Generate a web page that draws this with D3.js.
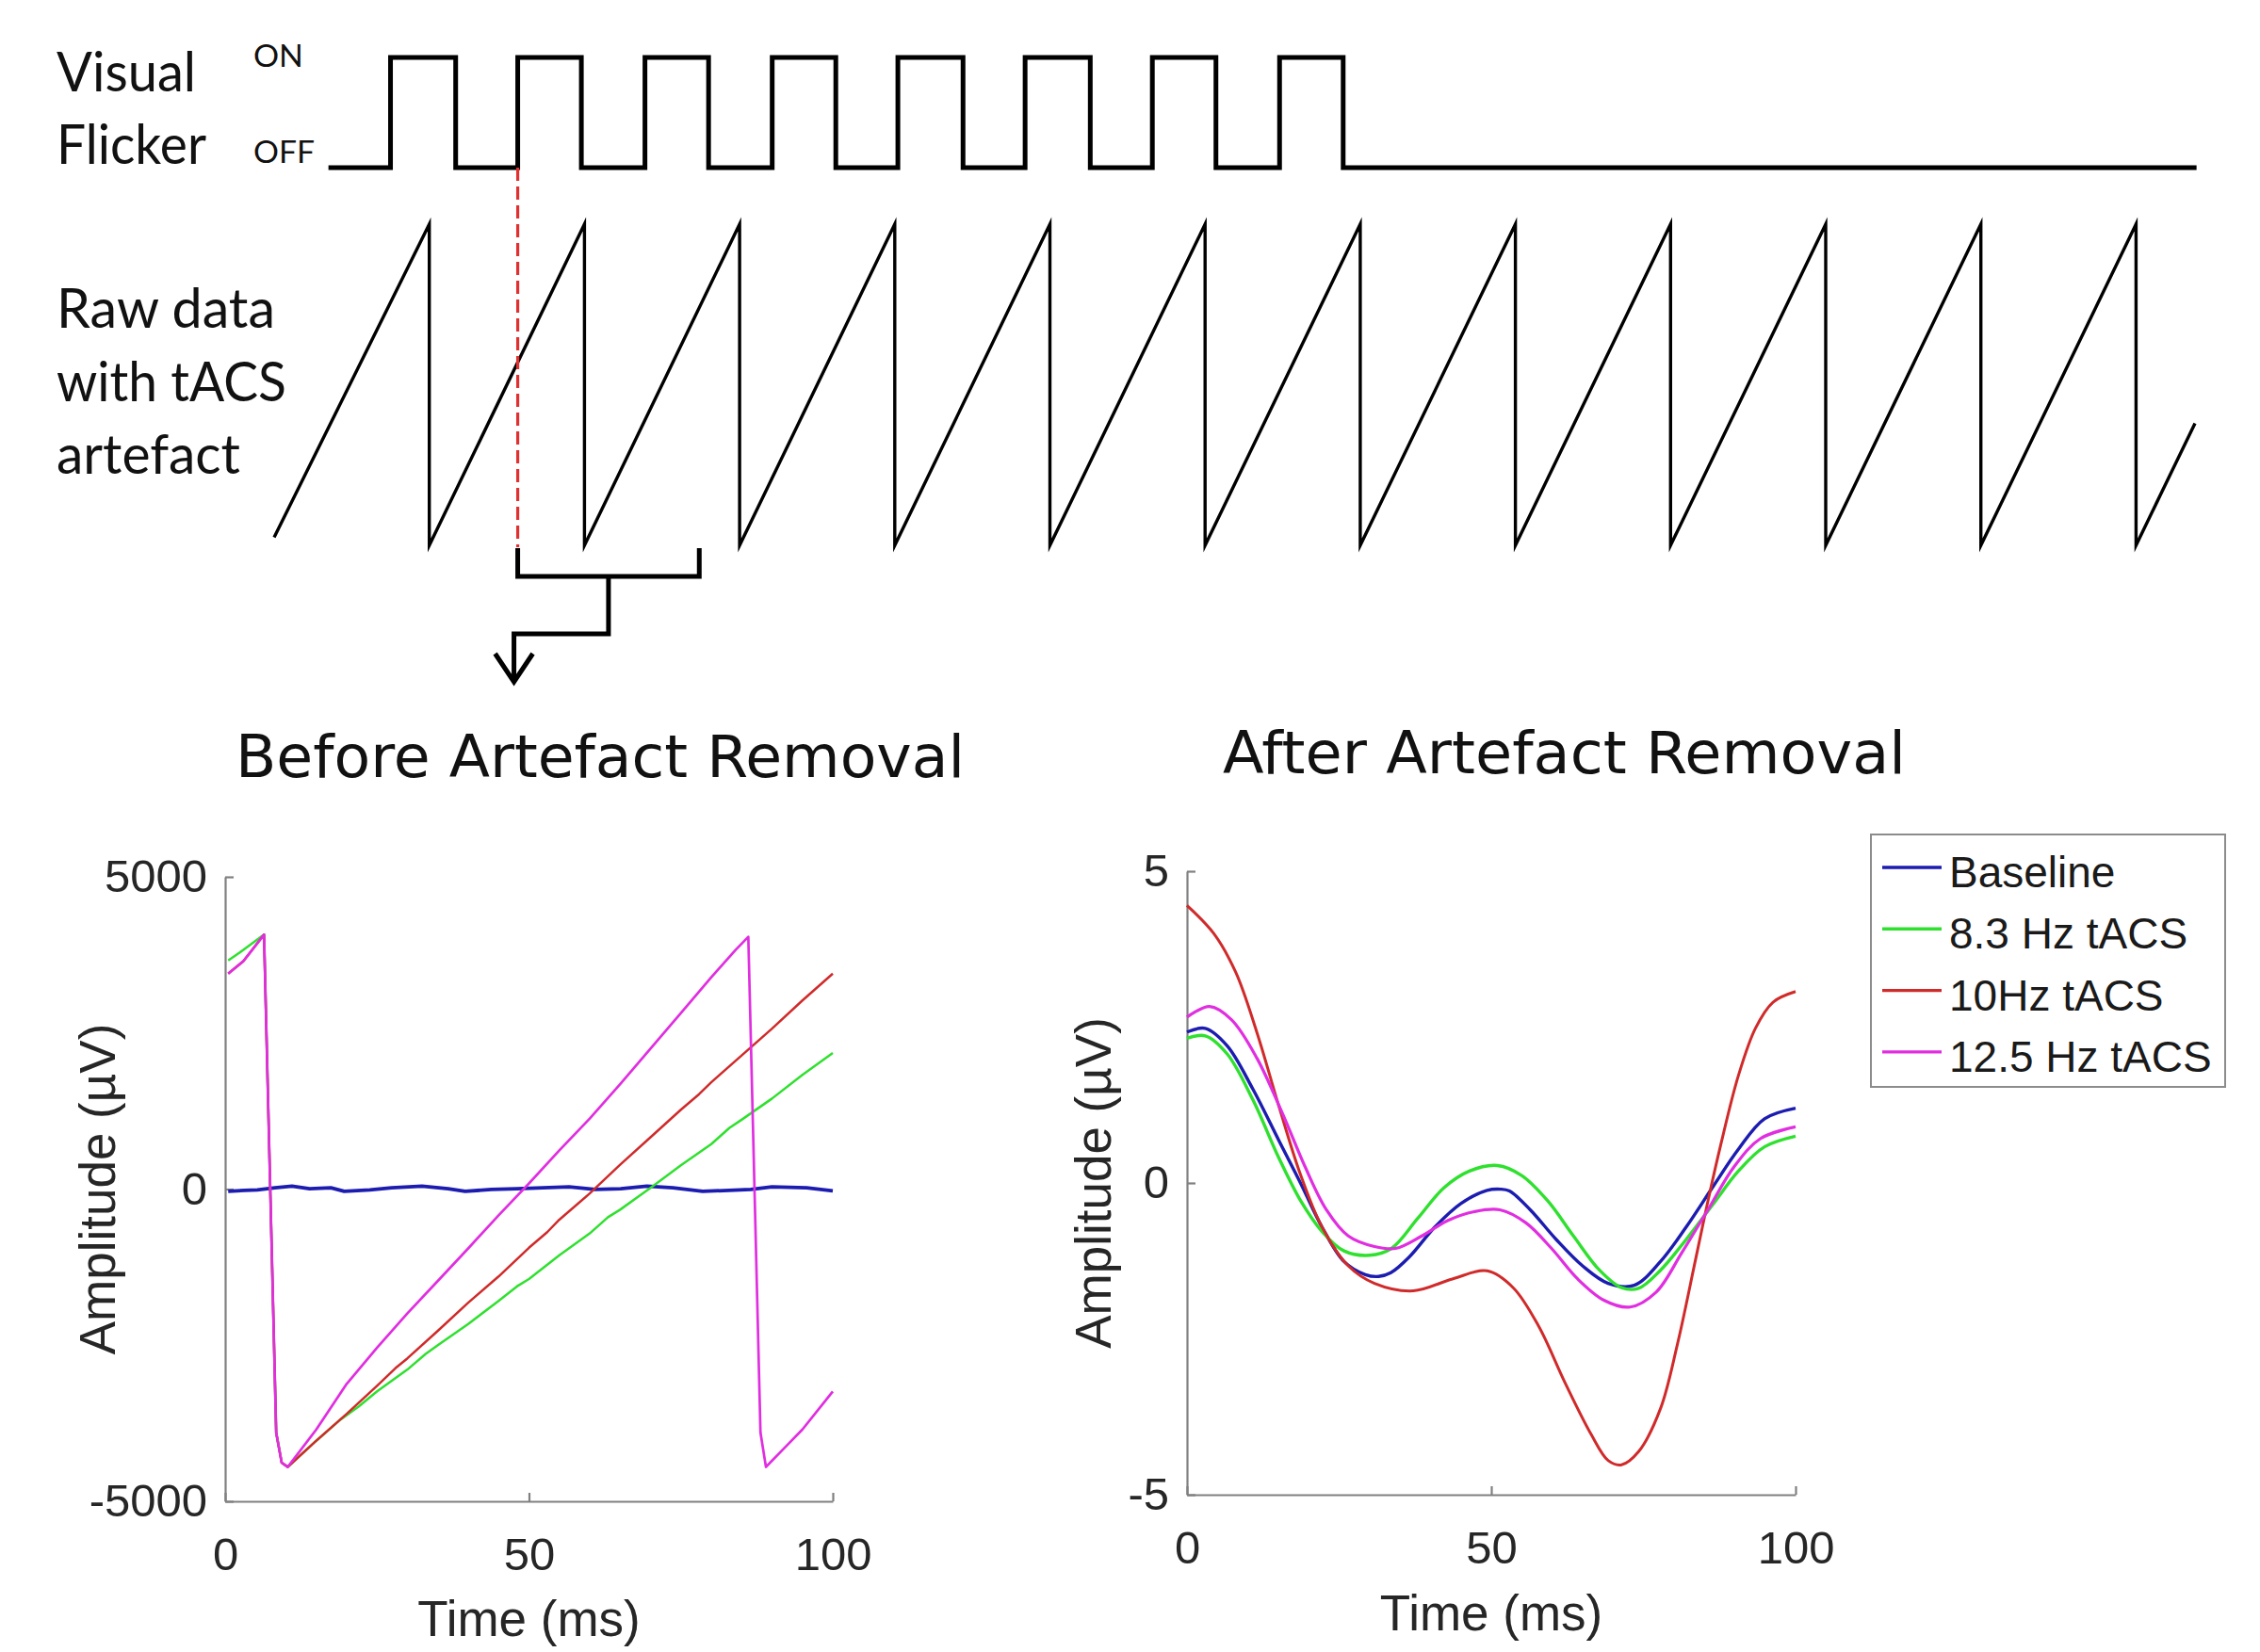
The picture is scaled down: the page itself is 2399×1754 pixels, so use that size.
<!DOCTYPE html>
<html>
<head>
<meta charset="utf-8">
<script src="https://cdn.jsdelivr.net/npm/d3@7"></script>
<style>
  body { margin: 0; background: #fff; }
</style>
</head>
<body>
<svg width="2399" height="1754"></svg>
<script>
// ---------------- data ----------------
// top schematic, time in ms (one tACS cycle = 100 ms)
var flickerOn   = [75, 157, 239, 321, 402, 484, 566, 648];
var flickerOff  = [117, 198, 280, 362, 444, 526, 607, 689];
var flickerSpan = [35, 1239];
var sawPeaks    = [100, 200, 300, 400, 500, 600, 700, 800, 900, 1000, 1100, 1200];
var sawStart    = [0, -0.95];
var sawEnd      = [1238, -0.24];
var epoch       = [157, 274];

var topLabels   = ["Visual", "Flicker"];
var rawLabels   = ["Raw data", "with tACS", "artefact"];

// bottom plots
var seriesNames  = ["Baseline", "8.3 Hz tACS", "10Hz tACS", "12.5 Hz tACS"];
var seriesColors = ["#1c1cb0", "#2fe02f", "#d02a2a", "#e02ee0"];
var timeTicks    = [0, 50, 100];
var beforeTicks  = [-5000, 0, 5000];
var afterTicks   = [-5, 0, 5];

// before artefact removal (µV)
var beforeBaseline = [[0.5,-35],[3.2,-21],[5.3,-14],[8.2,21],[11,48],[13.9,7],[17.4,21],[19.6,-35],[23.8,-14],[27.4,21],[32.4,48],[36.7,7],[39.5,-35],[43.8,-7],[48,7],[52.3,21],[56.6,35],[60.9,-7],[65.1,7],[69.4,48],[73.7,21],[78.6,-35],[82.9,-21],[86.5,-7],[90,35],[95.7,21],[100,-28]];
var beforeGreen = [[0.5,3660],[3,3830],[6.4,4075],[8.4,-3900],[9.3,-4380],[10.3,-4450],[15,-4030],[19,-3690],[22,-3480],[25,-3240],[30,-2890],[33,-2640],[35,-2500],[40,-2160],[45,-1790],[48,-1560],[50,-1440],[55,-1060],[60,-710],[63,-450],[65,-330],[70,20],[75,380],[80,720],[83,980],[85,1110],[90,1450],[95,1830],[100,2180]];
var beforeRed = [[0.5,3450],[3,3650],[6.4,4075],[8.4,-3900],[9.3,-4380],[10.3,-4450],[15,-4030],[20,-3600],[25,-3150],[28,-2870],[30,-2710],[35,-2270],[40,-1820],[45,-1400],[50,-940],[53,-690],[55,-490],[60,-70],[65,390],[70,830],[75,1270],[78,1520],[80,1710],[85,2140],[90,2570],[95,3020],[100,3450]];
var beforeMagenta = [[0.5,3450],[3,3650],[6.4,4075],[8.4,-3900],[9.3,-4380],[10.3,-4450],[15,-3850],[20,-3120],[25,-2540],[30,-1990],[35,-1470],[40,-950],[45,-420],[50,90],[55,620],[60,1130],[65,1680],[70,2250],[75,2820],[80,3390],[84,3830],[86.1,4040],[88.1,-3900],[89,-4450],[92,-4150],[95,-3850],[100,-3240]];

// after artefact removal (µV)
var afterBaseline = [[0,2.42],[3,2.48],[6.6,2.20],[10.8,1.51],[15.1,0.68],[18.7,-0.01],[22.2,-0.71],[25.8,-1.26],[29.3,-1.47],[31.5,-1.50],[33.5,-1.44],[36.5,-1.19],[40.7,-0.71],[45,-0.33],[49.3,-0.12],[51.5,-0.10],[53,-0.13],[56.4,-0.43],[60.7,-0.91],[65,-1.33],[69.2,-1.61],[73.5,-1.64],[77.8,-1.26],[82,-0.71],[86.3,-0.08],[90.6,0.54],[94.9,1.03],[100,1.20]];
var afterGreen = [[0,2.32],[3,2.36],[6.6,2.07],[10.8,1.34],[15.1,0.40],[18.7,-0.29],[22.2,-0.78],[25.8,-1.09],[30,-1.16],[33.6,-1.05],[37.9,-0.57],[42.2,-0.08],[46.4,0.19],[51,0.28],[55,0.12],[59.3,-0.29],[63.5,-0.85],[67.8,-1.40],[71.4,-1.68],[74.2,-1.69],[77.8,-1.40],[82,-0.91],[86.3,-0.36],[90.6,0.19],[94.9,0.58],[100,0.75]];
var afterRed = [[0,4.45],[4.4,4.0],[8,3.38],[11.5,2.41],[15.1,1.23],[18.7,0.12],[22.2,-0.71],[26.5,-1.33],[30.8,-1.61],[37.2,-1.73],[43.6,-1.54],[49.3,-1.41],[53.6,-1.68],[57.8,-2.30],[62.1,-3.20],[66.4,-4.03],[69.2,-4.45],[71.4,-4.52],[74.2,-4.31],[77.8,-3.62],[80.6,-2.58],[83.5,-1.26],[85.6,-0.29],[87.7,0.61],[90.6,1.72],[93.4,2.48],[96.3,2.90],[100,3.07]];
var afterMagenta = [[0,2.66],[3.7,2.83],[7.3,2.62],[11.5,2.0],[15.8,1.09],[19.4,0.26],[22.9,-0.43],[26.5,-0.85],[30.8,-1.02],[34.3,-1.05],[38.6,-0.85],[42.9,-0.60],[47.2,-0.46],[51.4,-0.43],[55.7,-0.64],[59.9,-1.05],[64.2,-1.54],[68.5,-1.88],[72.8,-1.99],[77.1,-1.75],[81.3,-1.12],[85.6,-0.43],[89.9,0.26],[94.2,0.71],[100,0.90]];

// ---------------- drawing ----------------
var svg = d3.select("svg");
svg.append("rect").attr("width", 2399).attr("height", 1754).attr("fill", "#fff");

var calibri = "Lato, 'Open Sans', sans-serif",
    verdana = "'DejaVu Sans', Verdana, sans-serif",
    arial   = "'Liberation Sans', Arial, sans-serif";

// ---- top schematic ----
var xTop   = d3.scaleLinear().domain([0, 1238]).range([291, 2330]);
var yFlick = d3.scaleLinear().domain([0, 1]).range([178, 61]);
var ySaw   = d3.scaleLinear().domain([-1, 1]).range([579, 238]);

// square wave
var flickPts = [[flickerSpan[0], 0]];
flickerOn.forEach(function(t, i) {
  flickPts.push([t, 0], [t, 1], [flickerOff[i], 1], [flickerOff[i], 0]);
});
flickPts.push([flickerSpan[1], 0]);

svg.append("path")
  .attr("d", d3.line().x(d => xTop(d[0])).y(d => yFlick(d[1]))(flickPts))
  .attr("fill", "none").attr("stroke", "#000").attr("stroke-width", 5)
  .attr("stroke-linejoin", "miter");

// sawtooth
var sawPts = [sawStart];
sawPeaks.forEach(function(t) { sawPts.push([t, 1], [t, -1]); });
sawPts.push(sawEnd);

svg.append("path")
  .attr("d", d3.line().x(d => xTop(d[0])).y(d => ySaw(d[1]))(sawPts))
  .attr("fill", "none").attr("stroke", "#000").attr("stroke-width", 3.4)
  .attr("stroke-linejoin", "miter").attr("stroke-miterlimit", 12);

// red dashed marker at flicker onset
var xe0 = xTop(epoch[0]), xe1 = xTop(epoch[1]), yb = ySaw(-1);
svg.append("line")
  .attr("x1", xe0).attr("x2", xe0)
  .attr("y1", yFlick(0)).attr("y2", yb + 2)
  .attr("stroke", "#e03030").attr("stroke-width", 3.2)
  .attr("stroke-dasharray", "14,6");

// bracket and arrow
var xm = (xe0 + xe1) / 2, xa = xe0 - 4;
svg.append("path")
  .attr("d", "M" + xe0 + "," + (yb + 3) + "V" + (yb + 33) + "H" + xe1 + "V" + (yb + 3) +
             "M" + xm + "," + (yb + 33) + "V" + (yb + 94) + "H" + xa + "V" + (yb + 143))
  .attr("fill", "none").attr("stroke", "#000").attr("stroke-width", 5);
svg.append("path")
  .attr("d", "M" + (xa - 20) + "," + (yb + 115) + "L" + xa + "," + (yb + 145) + "L" + (xa + 20) + "," + (yb + 115))
  .attr("fill", "none").attr("stroke", "#000").attr("stroke-width", 5);

// labels
function fitText(sel, w) {
  sel.attr("textLength", w).attr("lengthAdjust", "spacingAndGlyphs");
}
var topWidths = [148, 159], topBase = [97, 174];
topLabels.forEach(function(s, i) {
  svg.append("text").text(s).attr("x", 60).attr("y", topBase[i])
    .attr("font-family", calibri).attr("font-size", 58).attr("fill", "#111")
    .call(fitText, topWidths[i]);
});
var rawWidths = [232, 244, 195], rawBase = [348, 426, 503];
rawLabels.forEach(function(s, i) {
  svg.append("text").text(s).attr("x", 60).attr("y", rawBase[i])
    .attr("font-family", calibri).attr("font-size", 58).attr("fill", "#111")
    .call(fitText, rawWidths[i]);
});
svg.append("text").text("ON").attr("x", 269).attr("y", 71)
  .attr("font-family", calibri).attr("font-size", 33).attr("fill", "#111").call(fitText, 53);
svg.append("text").text("OFF").attr("x", 269).attr("y", 173)
  .attr("font-family", calibri).attr("font-size", 33).attr("fill", "#111").call(fitText, 65);

// ---- bottom plots ----
function drawPanel(opt) {
  var x = d3.scaleLinear().domain([0, 100]).range(opt.xr);
  var y = d3.scaleLinear().domain(opt.yd).range(opt.yr);
  var g = svg.append("g");

  svg.append("text").text(opt.title)
    .attr("x", opt.titleX).attr("y", opt.titleY)
    .attr("font-family", verdana).attr("font-size", 62).attr("fill", "#111")
    .call(fitText, opt.titleW);

  var xAxis = g.append("g").attr("transform", "translate(0," + opt.yr[0] + ")")
    .call(d3.axisBottom(x).tickValues(timeTicks).tickFormat(d => String(d))
      .tickSizeInner(-9).tickSizeOuter(0).tickPadding(38));
  var yAxis = g.append("g").attr("transform", "translate(" + opt.xr[0] + ",0)")
    .call(d3.axisLeft(y).tickValues(opt.ticks).tickFormat(d => String(d))
      .tickSizeInner(-9).tickSizeOuter(0).tickPadding(19));
  [xAxis, yAxis].forEach(function(a) {
    a.attr("font-family", arial).attr("font-size", 49);
    a.select(".domain").attr("stroke", "#808080").attr("stroke-width", 2.2);
    a.selectAll(".tick line").attr("stroke", "#808080").attr("stroke-width", 2.2);
    a.selectAll(".tick text").attr("fill", "#262626");
  });

  var line = d3.line().x(d => x(d[0])).y(d => y(d[1]));
  if (opt.smooth) line.curve(d3.curveCatmullRom);
  opt.series.forEach(function(s, i) {
    g.append("path").attr("d", line(s))
      .attr("fill", "none").attr("stroke", seriesColors[i])
      .attr("stroke-width", opt.widths[i])
      .attr("stroke-linejoin", "round");
  });

  svg.append("text").text("Time (ms)")
    .attr("x", (opt.xr[0] + opt.xr[1]) / 2).attr("y", opt.xlabY)
    .attr("text-anchor", "middle").attr("font-family", arial)
    .attr("font-size", 53).attr("fill", "#262626");
  svg.append("text").text("Amplitude (\u00B5V)")
    .attr("transform", "translate(" + opt.ylabX + "," + y(0) + ") rotate(-90)")
    .attr("text-anchor", "middle").attr("font-family", arial)
    .attr("font-size", 53).attr("fill", "#262626");
}

drawPanel({
  title: "Before Artefact Removal", titleX: 250, titleY: 825, titleW: 774,
  xr: [239, 884], yd: [-5000, 5000], yr: [1594, 931], ticks: beforeTicks,
  series: [beforeBaseline, beforeGreen, beforeRed, beforeMagenta],
  widths: [3.8, 2.5, 2.5, 2.7], smooth: false,
  xlabY: 1737, ylabX: 122
});

drawPanel({
  title: "After Artefact Removal", titleX: 1298, titleY: 821, titleW: 725,
  xr: [1260, 1906], yd: [-5, 5], yr: [1587, 925], ticks: afterTicks,
  series: [afterBaseline, afterGreen, afterRed, afterMagenta],
  widths: [3.4, 3.4, 3, 3.2], smooth: true,
  xlabY: 1731, ylabX: 1179
});

// legend
var legend = svg.append("g");
legend.append("rect").attr("x", 1986).attr("y", 886).attr("width", 376).attr("height", 268)
  .attr("fill", "#fff").attr("stroke", "#8c8c8c").attr("stroke-width", 2);
seriesNames.forEach(function(s, i) {
  var ly = 921 + i * 65.3;
  legend.append("line").attr("x1", 1998).attr("x2", 2061).attr("y1", ly).attr("y2", ly)
    .attr("stroke", seriesColors[i]).attr("stroke-width", 3.4);
  legend.append("text").text(s).attr("x", 2069).attr("y", ly + 21)
    .attr("font-family", arial).attr("font-size", 46).attr("fill", "#1a1a1a");
});
</script>
</body>
</html>
